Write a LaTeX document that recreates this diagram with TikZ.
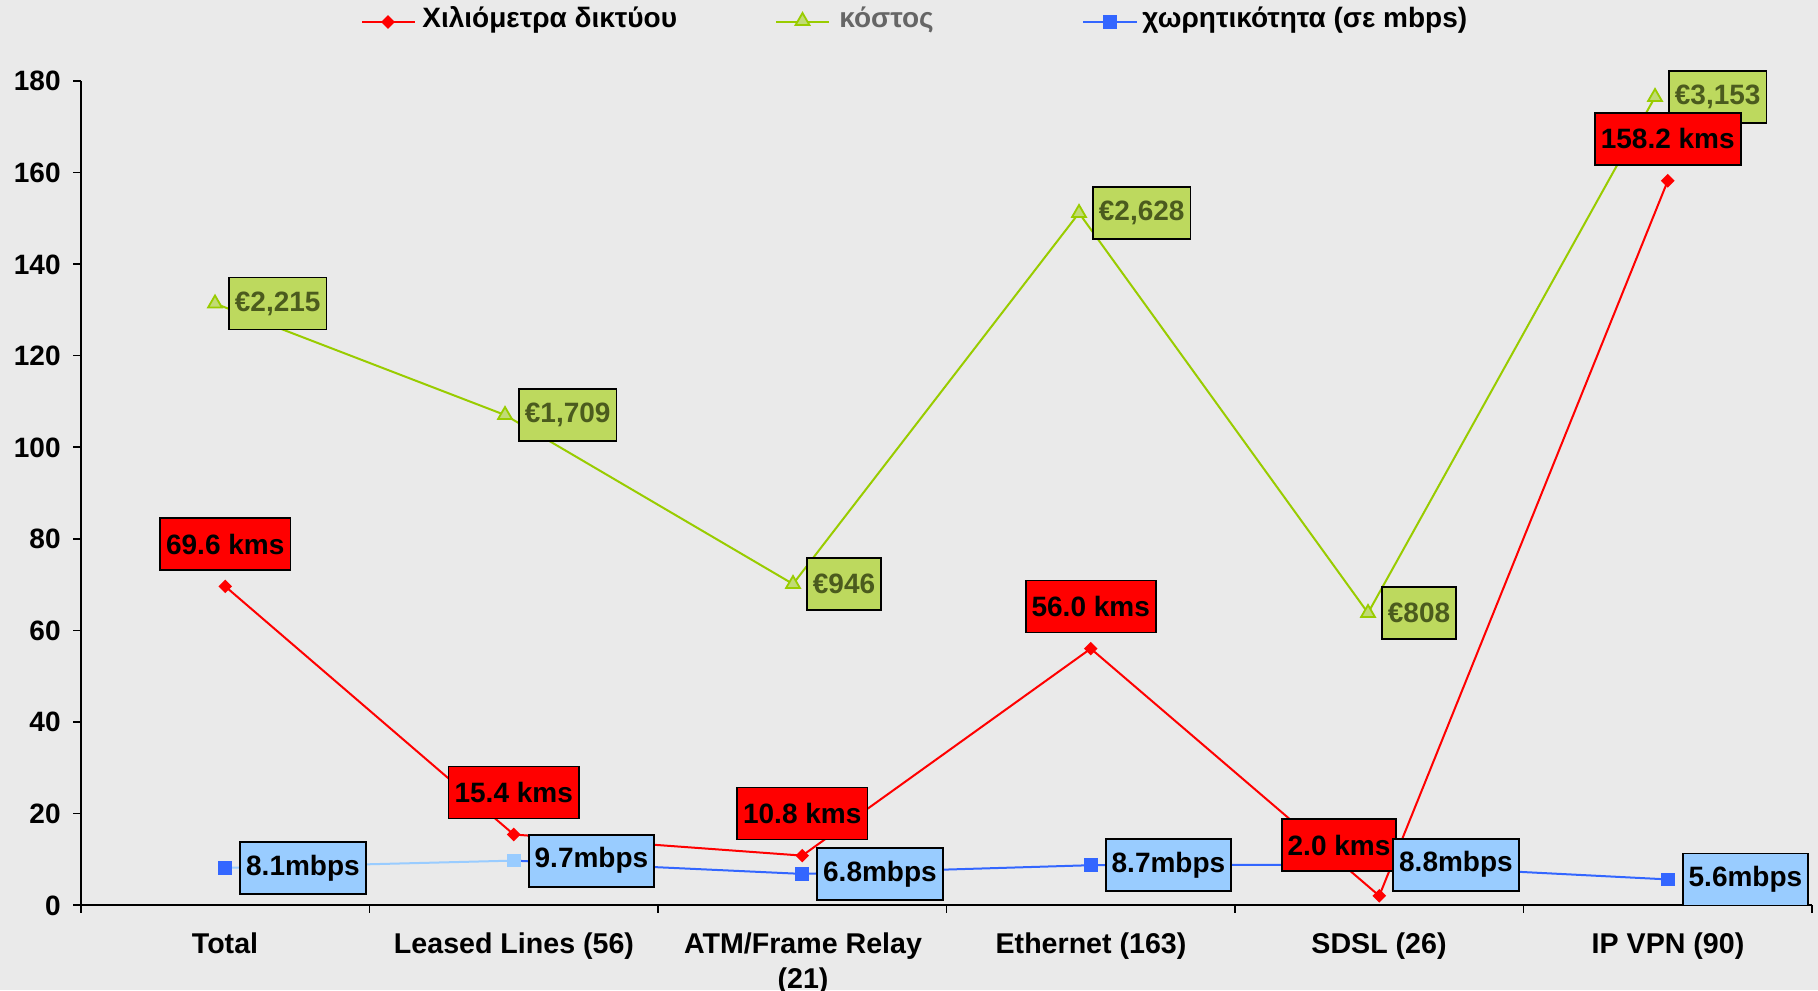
\documentclass[tikz,border=0pt]{standalone}
\usepackage{fontspec}
\setmainfont{Liberation Sans}
\usetikzlibrary{shapes.geometric}
\definecolor{bg}{HTML}{EAEAEA}
\definecolor{kmred}{HTML}{FF0000}
\definecolor{costgreen}{HTML}{99CC00}
\definecolor{costfill}{HTML}{BDD95E}
\definecolor{costtext}{HTML}{4B5B1E}
\definecolor{capblue}{HTML}{3366FF}
\definecolor{caplight}{HTML}{99CCFF}
\definecolor{legendgray}{HTML}{666666}
\tikzset{
  lbl/.style={font=\fontsize{14}{16}\selectfont\bfseries},
  catlbl/.style={font=\fontsize{14.3}{17.5}\selectfont\bfseries, anchor=base, inner sep=0pt},
  databox/.style={lbl, draw=black, line width=0.9pt, inner xsep=3pt, inner ysep=0pt, minimum height=26pt},
  kmbox/.style={databox, fill=kmred, text=black},
  costbox/.style={databox, fill=costfill, text=costtext},
  capbox/.style={databox, fill=caplight, text=black},
  kmline/.style={draw=kmred, line width=1pt},
  costline/.style={draw=costgreen, line width=1pt},
  capline/.style={draw=capblue, line width=1pt},
  kmmark/.style={diamond, fill=kmred, inner sep=0pt, minimum size=7pt},
  costmark/.style={regular polygon, regular polygon sides=3, draw=costgreen, fill=costgreen!50!bg, line width=0.9pt, inner sep=0pt, minimum size=8pt},
  capmark/.style={rectangle, fill=capblue, inner sep=0pt, minimum size=6.8pt},
  axisline/.style={draw=black, line width=0.8pt},
  kmabove/.style={kmbox, anchor=south, yshift=7.6pt},
  cright/.style={costbox, anchor=west, xshift=6.5pt},
  bright/.style={capbox, anchor=west, xshift=7pt},
}
\begin{document}
\begin{tikzpicture}[x=0.5pt,y=-0.5pt]
\fill[bg] (0,0) rectangle (1818,990);
\useasboundingbox (0,0) rectangle (1818,990);

% axes and ticks (0 at y=905, 180 at y=81)
\draw[axisline] (81,81) -- (81,913);
\draw[axisline] (81,905) -- (1812,905);
\foreach \v [count=\i from 0] in {0,20,...,180}{
  \draw[axisline] (73,905-91.556*\i) -- (81,905-91.556*\i);
  \node[lbl, anchor=base east, inner sep=0pt] (ytick\i) at (61,915-91.556*\i) {\v};
}
\foreach \k in {1,...,6}{
  \draw[axisline] (81+288.5*\k,905) -- (81+288.5*\k,913);
}

% category labels
\node[catlbl] (cat1) at (225,953) {Total};
\node[catlbl] (cat2) at (514,953) {Leased Lines (56)};
\node[catlbl, align=center] (cat3) at (803,988) {ATM/Frame Relay\\(21)};
\node[catlbl] (cat4) at (1091,953) {Ethernet (163)};
\node[catlbl] (cat5) at (1379,953) {SDSL (26)};
\node[catlbl] (cat6) at (1668,953) {IP VPN (90)};

% data points: network kilometres
\coordinate (k1) at (225.25,586.4);
\coordinate (k2) at (513.75,834.5);
\coordinate (k3) at (802.25,855.6);
\coordinate (k4) at (1090.75,648.6);
\coordinate (k5) at (1379.25,895.8);
\coordinate (k6) at (1667.75,180.8);

% data points: cost
\coordinate (c1) at (215,303.5);
\coordinate (c2) at (505,415);
\coordinate (c3) at (793,584);
\coordinate (c4) at (1079,213);
\coordinate (c5) at (1368,613);
\coordinate (c6) at (1655,97);

% data points: capacity
\coordinate (b1) at (225.25,867.9);
\coordinate (b2) at (513.75,860.6);
\coordinate (b3) at (802.25,873.9);
\coordinate (b4) at (1090.75,865.2);
\coordinate (b5) at (1379.25,864.7);
\coordinate (b6) at (1667.75,879.4);

% series lines
\draw[costline] (c1) -- (c2) -- (c3) -- (c4) -- (c5) -- (c6);
\draw[kmline] (k1) -- (k2) -- (k3) -- (k4) -- (k5) -- (k6);
\draw[draw=caplight, line width=1pt] (b1) -- (b2);
\draw[capline] (b2) -- (b3) -- (b4) -- (b5) -- (b6);

% markers
\foreach \i in {1,...,6}{
  \node[costmark] (cm\i) at (c\i) {};
  \node[kmmark] (km\i) at (k\i) {};
}
\foreach \i in {1,3,4,5,6}{ \node[capmark] (bm\i) at (b\i) {}; }
\node[capmark, fill=caplight] (bm2) at (b2) {};

% cost labels
\node[cright] (cl1) at (c1) {€2,215};
\node[cright] (cl2) at (c2) {€1,709};
\node[cright] (cl3) at (c3) {€946};
\node[cright] (cl4) at (c4) {€2,628};
\node[cright] (cl5) at (c5) {€808};
\node[cright] (cl6) at (c6) {€3,153};

% distance labels
\node[kmabove] (kl1) at (k1) {69.6 kms};
\node[kmabove] (kl2) at (k2) {15.4 kms};
\node[kmabove] (kl3) at (k3) {10.8 kms};
\node[kmabove] (kl4) at (k4) {56.0 kms};
\node[kmbox] (kl5) at (1339,845) {2.0 kms};
\node[kmabove] (kl6) at (k6) {158.2 kms};

% capacity labels
\node[bright] (bl1) at (b1) {8.1mbps};
\node[bright] (bl2) at (b2) {9.7mbps};
\node[bright] (bl3) at (b3) {6.8mbps};
\node[bright] (bl4) at (b4) {8.7mbps};
\node[bright, xshift=-0.5pt] (bl5) at (b5) {8.8mbps};
\node[bright] (bl6) at (b6) {5.6mbps};

% legend
\coordinate (lgk0) at (362,22); \coordinate (lgk1) at (415,22);
\draw[kmline] (lgk0) -- (lgk1);
\node[kmmark] (lgkm) at (388,22) {};
\node[lbl, anchor=base west, inner sep=0pt] (lgkt) at (422,28) {Χιλιόμετρα δικτύου};

\coordinate (lgc0) at (776,22); \coordinate (lgc1) at (829,22);
\draw[costline] (lgc0) -- (lgc1);
\node[costmark] (lgcm) at (802.5,21) {};
\node[lbl, anchor=base west, inner sep=0pt, text=legendgray] (lgct) at (839,28) {κόστος};

\coordinate (lgb0) at (1083,22); \coordinate (lgb1) at (1137,22);
\draw[capline] (lgb0) -- (lgb1);
\node[capmark] (lgbm) at (1110,22) {};
\node[lbl, anchor=base west, inner sep=0pt] (lgbt) at (1142,28) {χωρητικότητα (σε mbps)};
\end{tikzpicture}
\end{document}
